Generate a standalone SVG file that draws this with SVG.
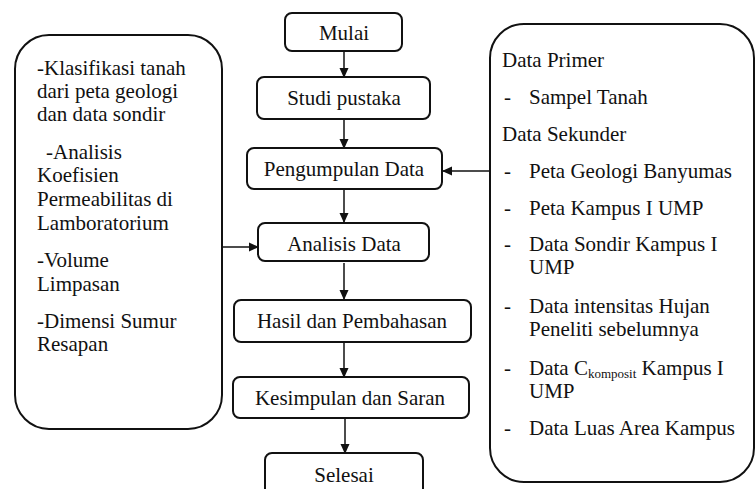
<svg xmlns="http://www.w3.org/2000/svg" width="756" height="489" viewBox="0 0 756 489">
<defs>
<marker id="ah" markerWidth="10" markerHeight="10" refX="9" refY="5" orient="auto" markerUnits="userSpaceOnUse">
<path d="M0,0.5 L10,5 L0,9.5 Z" fill="#111"/>
</marker>
</defs>
<rect width="756" height="489" fill="#fff"/>
<g id="connectors" stroke="#111" stroke-width="1.5" fill="none" marker-end="url(#ah)">
<line x1="344" y1="51" x2="344" y2="77"/>
<line x1="344" y1="119" x2="344" y2="148"/>
<line x1="344" y1="190" x2="344" y2="222"/>
<line x1="344" y1="263" x2="344" y2="299"/>
<line x1="344" y1="343" x2="344" y2="377"/>
<line x1="345" y1="419" x2="345" y2="453"/>
<line x1="490" y1="171" x2="443" y2="171"/>
<line x1="222" y1="247" x2="258" y2="247"/>
</g>
<g id="left-box">
<rect x="15" y="35" width="207" height="394" rx="34" fill="#fff" stroke="#111" stroke-width="2"/>
<text x="37" y="75" font-family="Liberation Serif" font-size="21" fill="#111">-Klasifikasi tanah</text>
<text x="37" y="98" font-family="Liberation Serif" font-size="21" fill="#111">dari peta geologi</text>
<text x="37" y="121" font-family="Liberation Serif" font-size="21" fill="#111">dan data sondir</text>
<text x="46" y="159" font-family="Liberation Serif" font-size="21" fill="#111">-Analisis</text>
<text x="37" y="182" font-family="Liberation Serif" font-size="21" fill="#111">Koefisien</text>
<text x="37" y="206" font-family="Liberation Serif" font-size="21" fill="#111">Permeabilitas di</text>
<text x="37" y="230" font-family="Liberation Serif" font-size="21" fill="#111">Lamboratorium</text>
<text x="37" y="267" font-family="Liberation Serif" font-size="21" fill="#111">-Volume</text>
<text x="37" y="291" font-family="Liberation Serif" font-size="21" fill="#111">Limpasan</text>
<text x="37" y="328" font-family="Liberation Serif" font-size="21" fill="#111">-Dimensi Sumur</text>
<text x="37" y="351" font-family="Liberation Serif" font-size="21" fill="#111">Resapan</text>
</g>
<g id="mulai">
<rect x="285" y="13" width="117" height="38" rx="7" fill="#fff" stroke="#111" stroke-width="2"/>
<text x="344" y="40" font-family="Liberation Serif" font-size="21" fill="#111" text-anchor="middle">Mulai</text>
</g>
<g id="studi-pustaka">
<rect x="257" y="77" width="173" height="42" rx="7" fill="#fff" stroke="#111" stroke-width="2"/>
<text x="344" y="105" font-family="Liberation Serif" font-size="21" fill="#111" text-anchor="middle">Studi pustaka</text>
</g>
<g id="pengumpulan-data">
<rect x="247" y="148" width="195" height="41" rx="7" fill="#fff" stroke="#111" stroke-width="2"/>
<text x="344" y="176" font-family="Liberation Serif" font-size="21" fill="#111" text-anchor="middle">Pengumpulan Data</text>
</g>
<g id="analisis-data">
<rect x="258" y="223" width="171" height="38" rx="7" fill="#fff" stroke="#111" stroke-width="2"/>
<text x="344" y="251" font-family="Liberation Serif" font-size="21" fill="#111" text-anchor="middle">Analisis Data</text>
</g>
<g id="hasil">
<rect x="234" y="300" width="237" height="42" rx="7" fill="#fff" stroke="#111" stroke-width="2"/>
<text x="352" y="328" font-family="Liberation Serif" font-size="21" fill="#111" text-anchor="middle">Hasil dan Pembahasan</text>
</g>
<g id="kesimpulan">
<rect x="233" y="377" width="236" height="41" rx="7" fill="#fff" stroke="#111" stroke-width="2"/>
<text x="350" y="405" font-family="Liberation Serif" font-size="21" fill="#111" text-anchor="middle">Kesimpulan dan Saran</text>
</g>
<g id="selesai">
<rect x="265" y="453" width="158" height="45" rx="7" fill="#fff" stroke="#111" stroke-width="2"/>
<text x="344" y="482" font-family="Liberation Serif" font-size="21" fill="#111" text-anchor="middle">Selesai</text>
</g>
<g id="right-box">
<rect x="490" y="24" width="264" height="458" rx="34" fill="#fff" stroke="#111" stroke-width="2"/>
<text x="502" y="67" font-family="Liberation Serif" font-size="21" fill="#111">Data Primer</text>
<text x="504" y="104" font-family="Liberation Serif" font-size="21" fill="#111">-</text>
<text x="529" y="104" font-family="Liberation Serif" font-size="21" fill="#111">Sampel Tanah</text>
<text x="502" y="141" font-family="Liberation Serif" font-size="21" fill="#111">Data Sekunder</text>
<text x="504" y="178" font-family="Liberation Serif" font-size="21" fill="#111">-</text>
<text x="529" y="178" font-family="Liberation Serif" font-size="21" fill="#111">Peta Geologi Banyumas</text>
<text x="504" y="215" font-family="Liberation Serif" font-size="21" fill="#111">-</text>
<text x="529" y="215" font-family="Liberation Serif" font-size="21" fill="#111">Peta Kampus I UMP</text>
<text x="504" y="251" font-family="Liberation Serif" font-size="21" fill="#111">-</text>
<text x="529" y="251" font-family="Liberation Serif" font-size="21" fill="#111">Data Sondir Kampus I</text>
<text x="529" y="274" font-family="Liberation Serif" font-size="21" fill="#111">UMP</text>
<text x="504" y="313" font-family="Liberation Serif" font-size="21" fill="#111">-</text>
<text x="529" y="313" font-family="Liberation Serif" font-size="21" fill="#111">Data intensitas Hujan</text>
<text x="529" y="336" font-family="Liberation Serif" font-size="21" fill="#111">Peneliti sebelumnya</text>
<text x="504" y="375" font-family="Liberation Serif" font-size="21" fill="#111">-</text>
<text x="529" y="375" font-family="Liberation Serif" font-size="21" fill="#111">Data C<tspan font-size="13" dy="3">komposit</tspan><tspan dy="-3"> Kampus I</tspan></text>
<text x="529" y="398" font-family="Liberation Serif" font-size="21" fill="#111">UMP</text>
<text x="504" y="435" font-family="Liberation Serif" font-size="21" fill="#111">-</text>
<text x="529" y="435" font-family="Liberation Serif" font-size="21" fill="#111">Data Luas Area Kampus</text>
</g>
</svg>
